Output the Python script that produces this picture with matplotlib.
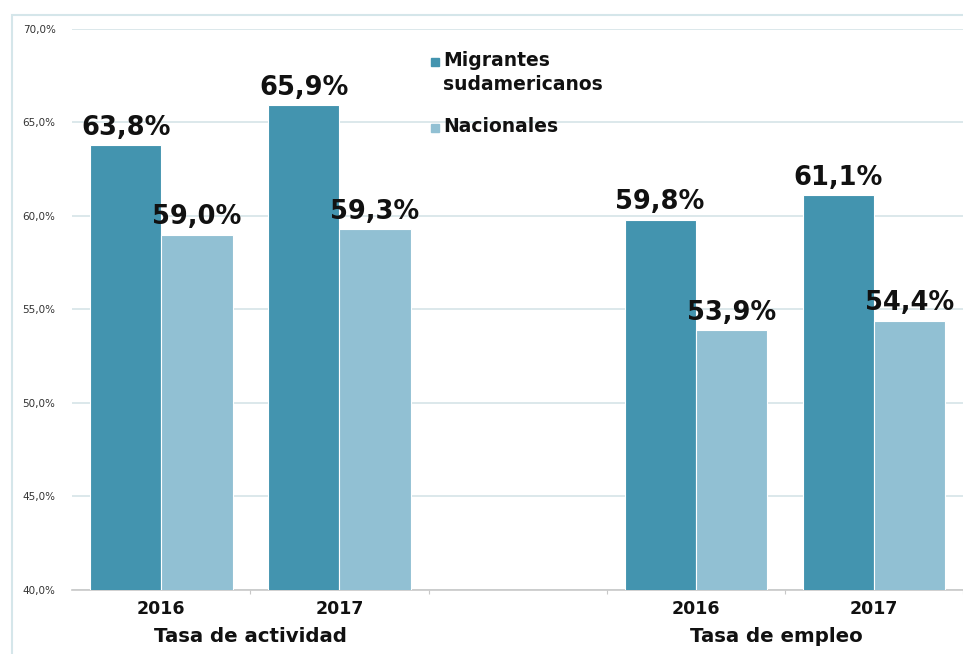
import matplotlib.pyplot as plt
from matplotlib.patches import Rectangle
import numpy as np

# Data
groups = ['Tasa de actividad', 'Tasa de empleo']
years = ['2016', '2017']
migrantes = [63.8, 65.9, 59.8, 61.1]
nacionales = [59.0, 59.3, 53.9, 54.4]
series_names = ['Migrantes\nsudamericanos', 'Nacionales']
yticks = [40, 45, 50, 55, 60, 65, 70]

c_dark = '#4394AF'
c_light = '#91C0D3'

# slots: two years, empty gap, two years
x = np.array([0, 1, 3, 4])
w = 0.4

fig = plt.figure(figsize=(9.63, 6.54), dpi=100)
ax = fig.add_axes([0.075, 0.098, 0.925, 0.858])

b1 = ax.bar(x - w / 2, migrantes, w, color=c_dark, edgecolor='white', linewidth=0.8, zorder=3)
b2 = ax.bar(x + w / 2, nacionales, w, color=c_light, edgecolor='white', linewidth=0.8, zorder=3)

def fmt(v):
    return f'{v:.1f}%'.replace('.', ',')

for bars, vals in ((b1, migrantes), (b2, nacionales)):
    for b, v in zip(bars, vals):
        ax.annotate(fmt(v), (b.get_x() + b.get_width() / 2, v), xytext=(0, 3),
                    textcoords='offset points', ha='center', va='bottom',
                    fontsize=18.5, fontweight='bold', color='#111111', zorder=5)

ax.set_ylim(40, 70)
ax.set_xlim(-0.5, 4.5)
ax.set_yticks(yticks)
ax.set_yticklabels([f'{t:.1f}%'.replace('.', ',') for t in yticks], fontsize=7.5, color='#333333')
ax.tick_params(axis='y', length=0, pad=12)
ax.grid(axis='y', color='#d6e4e7', linewidth=1.2, zorder=0)

ax.set_xticks([0.5, 1.5, 2.5, 3.5, 4.5])
ax.set_xticklabels([])
ax.tick_params(axis='x', length=3, color='#c8c8c8', direction='out')
for s in ['top', 'right', 'left']:
    ax.spines[s].set_visible(False)
ax.spines['bottom'].set_color('#c8c8c8')
ax.spines['bottom'].set_linewidth(1.2)

tr = ax.get_xaxis_transform()
for xi, yr in zip(x, years * 2):
    ax.text(xi, -0.018, yr, transform=tr, ha='center', va='top', fontsize=12.5,
            fontweight='bold', color='#111111')
ax.text(0.5, -0.066, groups[0], transform=tr, ha='center', va='top', fontsize=14.2,
        fontweight='bold', color='#111111')
ax.text(3.45, -0.066, groups[1], transform=tr, ha='center', va='top', fontsize=14.2,
        fontweight='bold', color='#111111')

# legend drawn by hand so the marker sits on the first line of the label
leg_y = [0.941, 0.824]
for name, col, ly in zip(series_names, [c_dark, c_light], leg_y):
    ax.plot([0.407], [ly], marker='s', markersize=6, color=col, transform=ax.transAxes,
            clip_on=False, zorder=6)
    ax.text(0.416, ly + 0.019, name, transform=ax.transAxes, ha='left', va='top',
            fontsize=13.5, fontweight='bold', color='#111111', linespacing=1.3, zorder=6)

# light frame around the image
fig.patches.append(Rectangle((0.0125, -0.01), 1.1, 0.987, transform=fig.transFigure,
                             fill=False, edgecolor='#d5e6ea', linewidth=1.5))

fig.savefig('out.png', dpi=100)
